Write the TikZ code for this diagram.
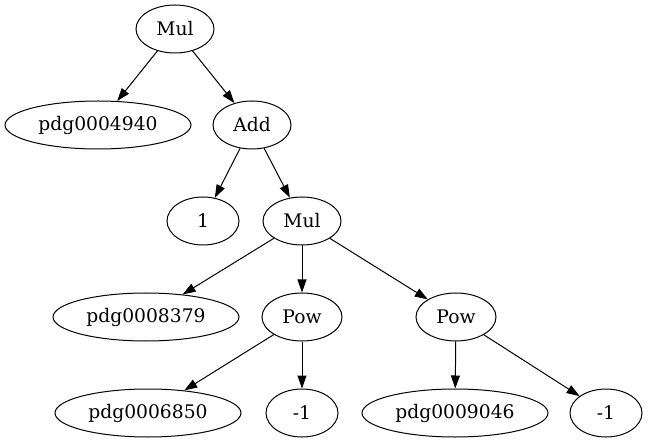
\documentclass[tikz,border=0pt]{standalone}
\usepackage{fontspec}
\setmainfont{DejaVu Serif}
\usetikzlibrary{shapes.geometric,arrows.meta}
\begin{document}
\begin{tikzpicture}[x=1pt,y=-1pt,
  nd/.style={draw,ellipse,line width=1pt,inner sep=0pt,minimum height=48pt,font=\fontsize{18.7}{22}\selectfont},
  sm/.style={nd,minimum width=72pt},
  md/.style={nd,minimum width=78pt},
  lg/.style={nd,minimum width=186pt},
  edge/.style={line width=1pt,-{Triangle[length=13pt,width=9pt]}}]
\useasboundingbox (0,0) rectangle (650,443);
\node[md] (mul1) at (175,29) {Mul};
\node[lg] (p4940) at (98,125) {pdg0004940};
\node[md] (add) at (252,125) {Add};
\node[sm] (one) at (203,221) {1};
\node[md] (mul2) at (302,221) {Mul};
\node[lg] (p8379) at (146,317) {pdg0008379};
\node[nd,minimum width=80pt] (pow1) at (302,317) {Pow};
\node[nd,minimum width=80pt] (pow2) at (456,317) {Pow};
\node[lg] (p6850) at (148,413) {pdg0006850};
\node[sm] (m1a) at (302,413) {-1};
\node[lg] (p9046) at (455,413) {pdg0009046};
\node[sm] (m1b) at (606,413) {-1};
\draw[edge] (mul1) -- (p4940);
\draw[edge] (mul1) -- (add);
\draw[edge] (add) -- (one);
\draw[edge] (add) -- (mul2);
\draw[edge] (mul2) -- (p8379);
\draw[edge] (mul2) -- (pow1);
\draw[edge] (mul2) -- (pow2);
\draw[edge] (pow1) -- (p6850);
\draw[edge] (pow1) -- (m1a);
\draw[edge] (pow2) -- (p9046);
\draw[edge] (pow2) -- (m1b);
\end{tikzpicture}
\end{document}
